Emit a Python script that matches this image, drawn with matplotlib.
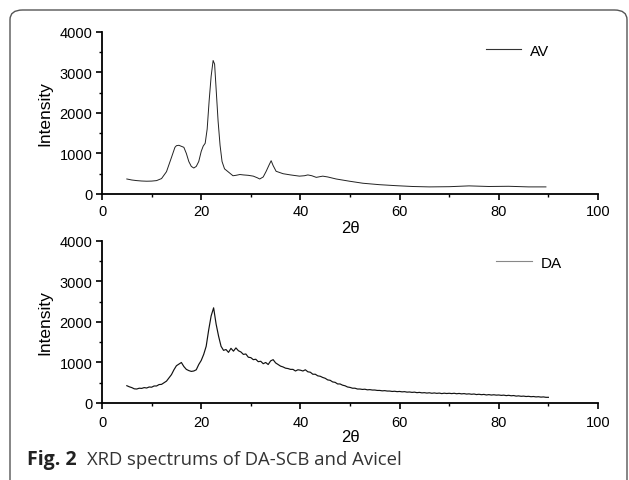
import matplotlib
matplotlib.use("Agg")
import matplotlib.pyplot as plt
from matplotlib.patches import FancyBboxPatch
from matplotlib.ticker import MultipleLocator

# AV (Avicel) pattern
av_theta = [5, 6, 7, 8, 9, 10, 11, 12, 13, 14, 14.7, 15, 15.5, 16, 16.5, 17, 17.5,
            18, 18.5, 19, 19.5, 20, 20.4, 20.8, 21.2, 21.6, 22, 22.4, 22.7, 23,
            23.4, 23.8, 24.2, 24.7, 25.5, 26.4, 27, 27.8, 28.5, 29.5, 30.5, 31.3,
            31.8, 32.5, 33.1, 33.7, 34.1, 34.5, 35.1, 36.5, 38, 39.8, 40.8, 41.5,
            42.3, 43.2, 44.5, 45.5, 47.2, 49.9, 52.6, 55.9, 59.3, 62.6, 66, 70,
            74, 78, 82, 86, 89.5]
av_int = [370, 345, 330, 320, 315, 318, 330, 380, 550, 900, 1150, 1190, 1200, 1175,
          1150, 1000, 800, 680, 640, 680, 800, 1050, 1180, 1250, 1600, 2300, 2900,
          3290, 3200, 2600, 1800, 1200, 800, 620, 540, 450, 460, 480, 470, 460, 440,
          400, 370, 420, 560, 720, 820, 700, 560, 500, 470, 440, 450, 470, 450, 410,
          440, 420, 370, 315, 265, 230, 205, 185, 175, 180, 200, 185, 190, 175, 175]

# DA (DA-SCB) pattern, every 0.5 deg from 5 to 90 deg (one row = 5 deg)
da_theta = [5 + 0.5 * i for i in range(171)]
da_int = [427, 400, 380, 350, 345, 365, 360, 380, 370, 395,         # 5
          390, 420, 420, 455, 460, 500, 540, 620, 700, 820,         # 10
          920, 960, 1000, 900, 830, 800, 780, 790, 820, 950,        # 15
          1050, 1200, 1400, 1800, 2150, 2350, 1950, 1650, 1400, 1300,  # 20
          1320, 1250, 1350, 1280, 1360, 1290, 1260, 1200, 1210, 1130,  # 25
          1120, 1070, 1080, 1020, 1030, 970, 1000, 950, 1040, 1070,  # 30
          990, 950, 910, 890, 860, 850, 830, 830, 790, 820,         # 35
          810, 790, 820, 770, 760, 710, 710, 670, 660, 630,         # 40
          610, 570, 560, 520, 510, 470, 470, 440, 425, 395,         # 45
          385, 365, 365, 345, 345, 335, 340, 325, 330, 320,         # 50
          320, 310, 310, 300, 305, 295, 295, 285, 290, 280,         # 55
          285, 275, 280, 268, 272, 262, 268, 255, 262, 250,         # 60
          255, 245, 252, 240, 248, 238, 245, 232, 242, 234,         # 65
          240, 232, 240, 228, 236, 225, 232, 220, 226, 215,         # 70
          222, 208, 216, 205, 212, 198, 207, 196, 203, 194,         # 75
          198, 188, 194, 182, 190, 178, 184, 170, 176, 165,         # 80
          170, 160, 165, 155, 160, 150, 155, 145, 150, 140,         # 85
          140]                                                      # 90

plt.rcParams['font.family'] = ['Liberation Sans', 'DejaVu Sans']

fig = plt.figure(figsize=(6.29, 4.81), dpi=100)

# rounded frame around the figure (bottom edge runs off the picture)
frame = FancyBboxPatch((10 / 629, -0.05), 617 / 629, 1.05 - 11 / 481,
                       boxstyle="round,pad=0,rounding_size=0.02",
                       transform=fig.transFigure, fill=False,
                       edgecolor="#555555", linewidth=1.0, clip_on=False)
fig.patches.append(frame)

ax_top = fig.add_axes([0.1622, 0.5946, 0.7885, 0.3375])
ax_bot = fig.add_axes([0.1622, 0.1601, 0.7885, 0.3368])

panels = [
    (ax_top, av_theta, av_int, "AV", "#222222", 0.7, "#333333", 3, 2, 0.93, 1.01),
    (ax_bot, da_theta, da_int, "DA", "#111111", 0.85, "#888888", 5, 0, 0.955, 0.995),
]

for ax, x, y, label, col, lw, leg_col, xpad, lpad, leg_x, leg_y in panels:
    ax.plot(x, y, color=col, linewidth=lw, label=label)
    ax.set_xlim(0, 100)
    ax.set_ylim(0, 4000)
    ax.spines["top"].set_visible(False)
    ax.spines["right"].set_visible(False)
    ax.spines["left"].set_linewidth(1.3)
    ax.spines["bottom"].set_linewidth(1.3)
    ax.xaxis.set_major_locator(MultipleLocator(20))
    ax.xaxis.set_minor_locator(MultipleLocator(10))
    ax.yaxis.set_major_locator(MultipleLocator(1000))
    ax.yaxis.set_minor_locator(MultipleLocator(500))
    ax.tick_params(which="major", direction="out", length=4, width=1.2,
                   labelsize=10.5)
    ax.tick_params(which="minor", direction="out", length=2.5, width=1.0)
    ax.tick_params(axis="x", pad=xpad)
    ax.tick_params(axis="y", pad=3)
    ax.set_ylabel("Intensity", fontsize=12.5, labelpad=5)
    ax.set_xlabel("2θ", fontsize=12, labelpad=lpad)
    leg = ax.legend(loc="upper right", bbox_to_anchor=(leg_x, leg_y), frameon=False,
                    fontsize=11, handlelength=2.3, handletextpad=0.6)
    leg.legend_handles[0].set_color(leg_col)
    leg.legend_handles[0].set_linewidth(0.8)

cap_y = 1 - 465 / 481
fig.text(27 / 629, cap_y, "Fig. 2", fontsize=14, fontweight="bold",
         family="Open Sans", color="#222222", va="baseline")
fig.text(87 / 629, cap_y, "XRD spectrums of DA-SCB and Avicel",
         fontsize=13.3, family="Open Sans", color="#333333", va="baseline")

plt.savefig("out.png", dpi=100)
plt.close()
